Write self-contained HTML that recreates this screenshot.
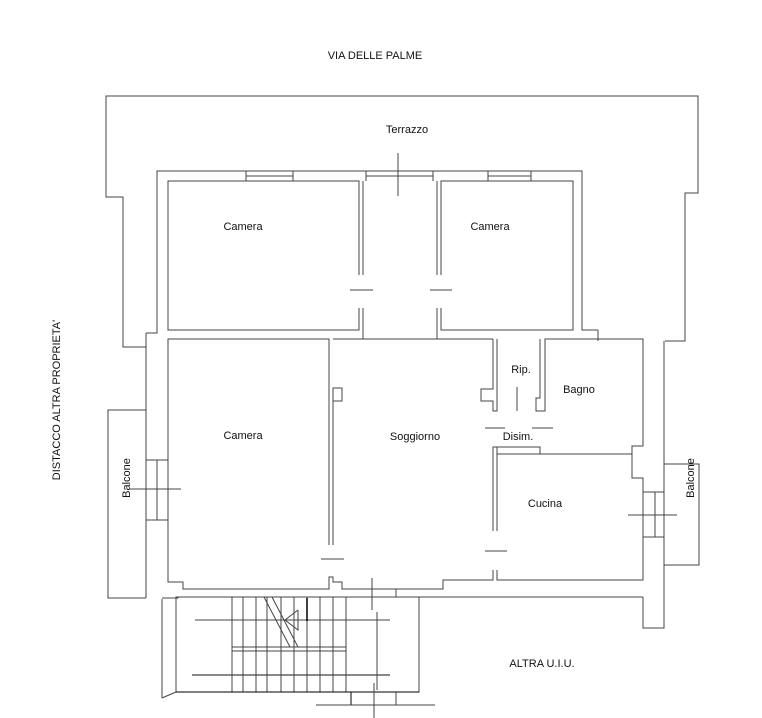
<!DOCTYPE html>
<html><head><meta charset="utf-8"><style>
html,body{margin:0;padding:0;background:#fff}
svg{display:block}
text{font-family:"Liberation Sans",sans-serif;font-size:11px;fill:#111}
</style></head><body>
<svg width="762" height="718" viewBox="0 0 762 718" xmlns="http://www.w3.org/2000/svg">
<g fill="none" stroke="#444" stroke-width="1">
<polyline points="146,333 146,347 123,347 123,197 106,197 106,96 698,96 698,193 685,193 685,341 665,341"/>
<polyline points="146,333 157,333 157,171 582,171 582,330 598,330"/>
<polyline points="598,330 598,341"/>
<polyline points="146,347 146,598"/>
<polyline points="664,341 664,628 643,628 643,597"/>
<polyline points="359,275 359,181 168,181 168,330 359,330 359,308"/>
<polyline points="363,275 363,181"/>
<polyline points="363,308 363,339"/>
<polyline points="437,275 437,181"/>
<polyline points="441,275 441,181 573,181 573,330 441,330 441,308"/>
<polyline points="437,308 437,339"/>
<line x1="246" y1="171" x2="246" y2="181"/><line x1="293" y1="171" x2="293" y2="181"/><line x1="246" y1="176" x2="293" y2="176"/>
<line x1="366" y1="171" x2="366" y2="181"/><line x1="433" y1="171" x2="433" y2="181"/><line x1="366" y1="176" x2="433" y2="176"/>
<line x1="488" y1="171" x2="488" y2="181"/><line x1="531" y1="171" x2="531" y2="181"/><line x1="488" y1="176" x2="531" y2="176"/>
<line x1="398" y1="153" x2="398" y2="196"/>
<line x1="350" y1="290" x2="373" y2="290"/>
<line x1="430" y1="290" x2="452" y2="290"/>
<polyline points="329,545 329,339 168,339 168,582 183,582 183,589 329,589 329,577 333,577 333,582 342,582 342,589 443,589 443,580 493,580 493,570"/>
<polyline points="333,545 333,388 342,388 342,401 333,401"/>
<line x1="333" y1="339" x2="493" y2="339"/>
<line x1="321" y1="559" x2="344" y2="559"/>
<polyline points="146,410 108,410 108,598 146,598"/>
<line x1="146" y1="460" x2="168" y2="460"/><line x1="146" y1="520" x2="168" y2="520"/>
<line x1="157" y1="460" x2="157" y2="520"/>
<line x1="130" y1="489" x2="181" y2="489"/>
<polyline points="493,339 493,389 481,389 481,401 493,401 493,411 497,411 497,339"/>
<polyline points="540,339 540,398 536,398 536,411 540,411 545,411 545,339 643,339 643,446 632,446 632,478 643,478 643,580 497,580 497,570"/>
<line x1="517" y1="387" x2="517" y2="411"/>
<line x1="485" y1="428" x2="505" y2="428"/>
<line x1="532" y1="428" x2="553" y2="428"/>
<polyline points="493,531 493,447 497,447 497,531"/>
<polyline points="497,454 632,454"/>
<polyline points="497,447 540,447 540,454 M545,454 545,446 632,446"/>
<line x1="485" y1="551" x2="507" y2="551"/>
<line x1="643" y1="492" x2="664" y2="492"/><line x1="643" y1="537" x2="664" y2="537"/>
<line x1="655" y1="492" x2="655" y2="537"/>
<line x1="628" y1="515" x2="677" y2="515"/>
<polyline points="664,464 699,464 699,565 664,565"/>
<polyline points="162,598 178,598 178,597 643,597"/>
<line x1="162" y1="599" x2="162" y2="698"/>
<line x1="162" y1="698" x2="176" y2="692"/>
<rect x="176" y="597" width="243" height="95"/>
<line x1="195" y1="620" x2="390" y2="620"/>
<line x1="192" y1="675" x2="390" y2="675" stroke="#111"/>
<line x1="232" y1="647" x2="346" y2="647"/>
<line x1="232" y1="651" x2="346" y2="651"/>
<g>
<line x1="232" y1="597" x2="232" y2="692"/><line x1="243" y1="597" x2="243" y2="692"/>
<line x1="256" y1="597" x2="256" y2="692"/><line x1="267" y1="597" x2="267" y2="692"/>
<line x1="281" y1="597" x2="281" y2="692"/><line x1="294" y1="597" x2="294" y2="692"/>
<line x1="307" y1="597" x2="307" y2="692"/><line x1="320" y1="597" x2="320" y2="692"/>
<line x1="333" y1="597" x2="333" y2="692"/><line x1="346" y1="597" x2="346" y2="692"/>
</g>
<line x1="264" y1="597" x2="290" y2="647"/>
<line x1="272" y1="597" x2="298" y2="647"/>
<polyline points="298,610 298,630 285,620 298,610"/>
<line x1="307" y1="598" x2="307" y2="621" stroke="#000" stroke-width="1.5"/>
<line x1="176" y1="692" x2="419" y2="692" stroke="#000"/>
<line x1="372" y1="578" x2="372" y2="610"/>
<line x1="377" y1="612" x2="377" y2="690"/>
<line x1="396" y1="589" x2="396" y2="597"/>
<line x1="351" y1="692" x2="351" y2="705" stroke="#000"/>
<line x1="396" y1="692" x2="396" y2="705"/>
<line x1="316" y1="705" x2="435" y2="705"/>
<line x1="374" y1="683" x2="374" y2="718"/>
</g>
<text x="375" y="59" text-anchor="middle">VIA DELLE PALME</text>
<text x="407" y="133" text-anchor="middle">Terrazzo</text>
<text x="243" y="230" text-anchor="middle">Camera</text>
<text x="490" y="230" text-anchor="middle">Camera</text>
<text x="243" y="439" text-anchor="middle">Camera</text>
<text x="415" y="440" text-anchor="middle">Soggiorno</text>
<text x="521" y="373" text-anchor="middle">Rip.</text>
<text x="579" y="393" text-anchor="middle">Bagno</text>
<text x="518" y="440" text-anchor="middle">Disim.</text>
<text x="545" y="507" text-anchor="middle">Cucina</text>
<text x="542" y="667" text-anchor="middle">ALTRA U.I.U.</text>
<text transform="translate(130,478) rotate(-90)" text-anchor="middle">Balcone</text>
<text transform="translate(694,478) rotate(-90)" text-anchor="middle">Balcone</text>
<text transform="translate(60,400) rotate(-90)" text-anchor="middle">DISTACCO ALTRA PROPRIETA'</text>
</svg>
</body></html>
